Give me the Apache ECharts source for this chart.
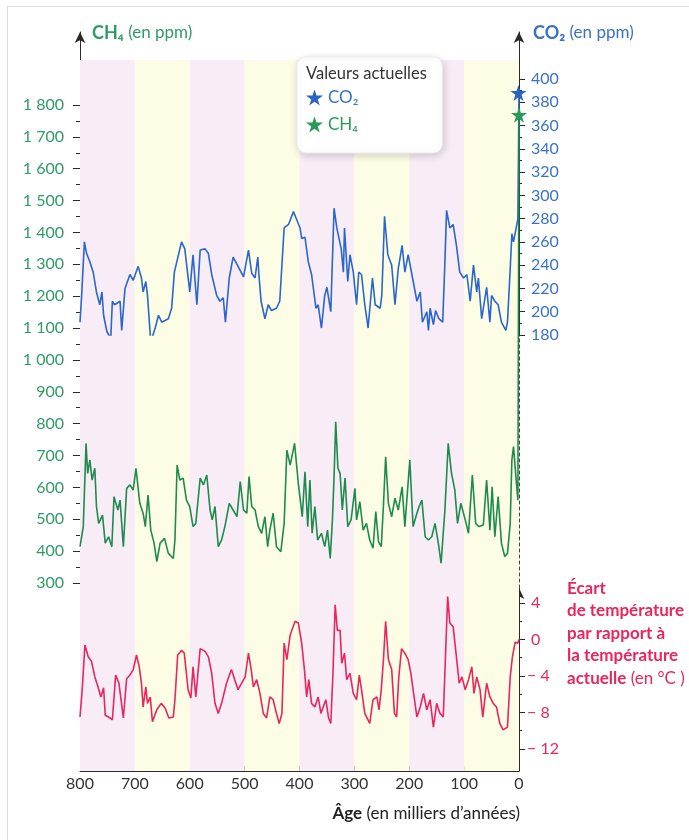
<!DOCTYPE html>
<html>
<head>
<meta charset="utf-8">
<title>CO2, CH4 et température - 800 000 ans</title>
<script src="https://cdn.jsdelivr.net/npm/echarts@6/dist/echarts.min.js"></script>
<style>
  html, body { margin: 0; padding: 0; background: #fff; }
  #frame { position: absolute; left: 7px; top: 6px; width: 720px; height: 900px;
           border-left: 1px solid #dcdcdc; border-top: 1px solid #dcdcdc; }
  #main { position: absolute; left: 0; top: 0; width: 689px; height: 840px; }
</style>
</head>
<body>
<div id="frame"></div>
<div id="main"></div>
<script>
// ages in thousands of years (800 -> 0)
var co2Age = [800, 797, 792, 788, 782, 776, 770, 764, 760, 757, 751, 744, 741, 737, 727, 724, 718, 709, 703, 694,
  688, 685, 680, 677, 671, 663, 657, 651, 639, 633, 628, 615, 609, 600, 594, 587, 581, 572, 566, 560,
  551, 545, 539, 535, 528, 521, 512, 502, 493, 487, 481, 476, 474, 470, 463, 457, 451, 442, 436, 428,
  420, 411, 405, 399, 396, 390, 384, 378, 370, 366, 360, 354, 350, 343, 337, 332, 324, 320, 318, 312,
  308, 302, 296, 292, 287, 281, 275, 267, 262, 253, 250, 245, 239, 232, 226, 220, 213, 208, 202, 194,
  186, 180, 176, 168, 165, 162, 156, 152, 146, 139, 135, 132, 126, 120, 114, 108, 101, 95, 89, 83,
  77, 74, 68, 59, 53, 50, 44, 38, 32, 24, 21, 16, 13, 10, 6, 2, 0];
var co2Val = [191, 214, 260, 250, 243, 234, 217, 206, 217, 197, 183, 177, 209, 206, 209, 184, 220, 232, 227, 239,
  229, 217, 226, 214, 174, 186, 197, 191, 194, 203, 234, 260, 254, 217, 249, 206, 253, 254, 250, 232,
  214, 209, 212, 191, 229, 247, 239, 230, 253, 233, 229, 247, 232, 209, 194, 206, 201, 203, 209, 272,
  275, 286, 279, 272, 263, 264, 243, 232, 203, 206, 186, 214, 221, 200, 289, 272, 254, 234, 272, 226,
  249, 234, 206, 234, 232, 206, 186, 229, 206, 203, 214, 282, 249, 240, 206, 237, 257, 234, 249, 229,
  209, 217, 191, 200, 184, 203, 189, 201, 194, 191, 243, 287, 272, 275, 257, 234, 229, 232, 209, 240,
  217, 229, 194, 221, 191, 214, 209, 206, 191, 184, 191, 237, 267, 260, 270, 280, 388];

var ch4Age = [800, 794, 789, 786, 782, 778, 773, 770, 766, 759, 754, 748, 742, 738, 731, 727, 721, 715, 709, 703,
  698, 691, 685, 681, 676, 671, 665, 660, 654, 646, 639, 630, 627, 623, 618, 612, 606, 600, 594, 589,
  581, 575, 569, 563, 559, 554, 548, 542, 536, 528, 521, 514, 508, 502, 496, 492, 487, 481, 475, 469,
  463, 458, 454, 448, 442, 434, 428, 423, 417, 409, 402, 395, 390, 385, 381, 377, 372, 367, 360, 354,
  349, 344, 340, 337, 334, 330, 326, 322, 317, 312, 306, 299, 296, 290, 284, 278, 272, 266, 261, 256,
  251, 247, 243, 238, 232, 226, 220, 213, 208, 199, 193, 186, 182, 177, 171, 165, 159, 153, 147, 142,
  135, 129, 123, 117, 112, 106, 98, 92, 85, 79, 73, 65, 59, 53, 49, 44, 38, 32, 26, 21,
  16, 13, 10, 5, 2, 0];
var ch4Val = [414, 477, 738, 644, 686, 623, 660, 540, 487, 513, 425, 445, 414, 571, 529, 560, 414, 597, 608, 592,
  660, 550, 519, 477, 576, 466, 425, 367, 425, 440, 393, 377, 435, 670, 623, 629, 560, 540, 477, 487,
  629, 608, 639, 529, 498, 540, 414, 435, 477, 550, 529, 508, 618, 529, 519, 634, 540, 529, 477, 456,
  508, 414, 466, 519, 414, 398, 487, 717, 670, 738, 610, 508, 649, 477, 623, 456, 540, 435, 456, 414,
  466, 377, 498, 634, 806, 660, 644, 529, 629, 477, 498, 597, 498, 555, 466, 487, 435, 409, 524, 430,
  414, 545, 696, 550, 508, 566, 529, 602, 477, 686, 477, 519, 540, 560, 445, 435, 445, 487, 425, 362,
  529, 738, 644, 592, 487, 550, 498, 456, 639, 487, 477, 482, 623, 466, 602, 445, 571, 425, 383, 393,
  487, 686, 728, 620, 560, 1769];

var tempAge = [800, 796, 791, 785, 779, 773, 767, 762, 757, 754, 745, 741, 735, 729, 721, 715, 709, 703, 697, 692,
  688, 685, 680, 677, 672, 668, 660, 652, 645, 638, 630, 627, 622, 615, 610, 603, 598, 594, 589, 581,
  572, 566, 560, 554, 548, 542, 533, 524, 518, 512, 499, 493, 488, 484, 478, 472, 466, 460, 454, 448,
  442, 437, 432, 428, 423, 417, 408, 402, 396, 391, 387, 383, 378, 372, 366, 361, 352, 347, 343, 339,
  335, 331, 326, 323, 318, 314, 308, 302, 296, 291, 287, 281, 272, 266, 259, 255, 251, 247, 243, 238,
  232, 227, 223, 219, 214, 208, 202, 197, 193, 186, 180, 174, 168, 162, 156, 150, 144, 138, 134, 130,
  126, 120, 114, 109, 104, 98, 92, 86, 82, 77, 71, 66, 59, 53, 47, 41, 35, 29, 21, 16,
  12, 7, 2, 0];
var tempVal = [-8.5, -5.5, -0.6, -1.9, -2.4, -4.1, -5.2, -6.3, -5.3, -8.3, -8.6, -8.8, -3.9, -4.8, -8.6, -4.3, -3.9, -3.3, -1.7, -3.0,
  -4.8, -7.4, -5.2, -7.0, -6.3, -9.0, -7.7, -7.0, -7.5, -8.6, -8.5, -6.6, -1.7, -1.2, -1.5, -5.5, -6.4, -3.0, -6.3, -1.0,
  -1.3, -1.9, -3.7, -7.0, -8.1, -7.0, -4.8, -3.3, -4.4, -5.5, -4.1, -1.5, -3.3, -5.2, -4.4, -5.9, -8.1, -8.6, -6.3, -6.6,
  -8.1, -9.2, -8.1, -0.4, -2.2, 0.5, 2.0, 1.8, -0.4, -3.3, -6.3, -4.4, -7.0, -7.4, -6.3, -8.1, -6.6, -8.6, -9.2, -3.7,
  3.8, 1.0, 1.0, -2.6, -1.5, -4.4, -3.7, -5.9, -6.6, -3.9, -5.5, -8.1, -9.2, -6.6, -6.3, -7.7, -5.5, -2.2, 2.0, -2.2,
  -3.3, -8.1, -8.5, -4.1, -1.0, -1.5, -2.2, -3.7, -5.5, -8.5, -7.4, -5.9, -7.7, -6.6, -9.6, -7.0, -8.1, -8.5, -1.9, 4.7,
  1.8, 1.4, -1.9, -4.8, -4.1, -5.5, -4.4, -3.0, -5.9, -4.1, -5.5, -8.5, -4.8, -6.3, -7.0, -7.4, -9.2, -9.9, -9.6, -4.1,
  -1.9, -0.3, -0.4, 0];

// present-day values (stars)
var co2Now = 388;
var ch4Now = 1769;

// axis ticks
var ch4Labels = [300, 400, 500, 600, 700, 800, 900, 1000, 1100, 1200, 1300, 1400, 1500, 1600, 1700, 1800];
var ch4Minor = [350, 450, 550, 650, 750, 850, 950, 1050, 1150, 1250, 1350, 1450, 1550, 1650, 1750];
var co2Labels = [180, 200, 220, 240, 260, 280, 300, 320, 340, 360, 380, 400];
var co2Minor = [190, 210, 230, 250, 270, 290, 310, 330, 350, 370, 390];
var tempLabels = [4, 0, -4, -8, -12];
var tempMinor = [2, -2, -6, -10];
var ageLabels = [0, 100, 200, 300, 400, 500, 600, 700, 800];
var ageTicks = [0, 50, 100, 150, 200, 250, 300, 350, 400, 450, 500, 550, 600, 650, 700, 750, 800];
// background bands (pink / yellow)
var bands = [[800, 700], [700, 600], [600, 500], [500, 400], [400, 300], [300, 200], [200, 100], [100, 0]];

var green = '#2f9c66';
var greenLine = '#1e8a4c';
var blue = '#3a72c6';
var blueLine = '#2a66cc';
var pink = '#e8265e';
var axisCol = '#2a2a2a';
var font = 'Lato';
var star = 'path://M50,0 L61.8,35.1 L98.9,35.1 L68.9,56.8 L80.3,91.9 L50,70.1 L19.7,91.9 L31.1,56.8 L1.1,35.1 L38.2,35.1 Z';

function pairs(ages, vals)
{
    var out = [];
    for (var i = 0; i < ages.length; i++)
        out.push([ages[i], vals[i]]);
    return out;
}

function ch4Fmt(v)
{
    if (v >= 1000)
    {
        var r = String(v % 1000);
        while (r.length < 3) r = '0' + r;
        return Math.floor(v / 1000) + ' ' + r;
    }
    return String(v);
}

function tempFmt(v)
{
    if (v < 0) return '\u2212 ' + Math.abs(v);
    return ' ' + v;
}

var myChart = echarts.init(document.getElementById('main'), null, {renderer: 'canvas'});

var L = 80, R = 170;
var grids = [
    {left: L, right: R, top: 32, bottom: 257},   // CH4
    {left: L, right: R, top: 32, bottom: 505},   // CO2
    {left: L, right: R, top: 588, bottom: 69},   // temperature + age axis
    {left: L, right: R, top: 583, bottom: 69},   // dashed left
    {left: L, right: R, top: 335, bottom: 252},  // dashed right
    {left: L, right: R, top: 60, bottom: 69}     // bands
];

var xAxes = [];
for (var g = 0; g < grids.length; g++)
{
    xAxes.push({
        type: 'value', gridIndex: g, min: 0, max: 800, inverse: true,
        show: g == 2,
        axisLine: {onZero: false, lineStyle: {color: axisCol, width: 1}},
        axisTick: {customValues: ageTicks, inside: true, length: 5, lineStyle: {color: axisCol}},
        axisLabel: {customValues: ageLabels, color: '#333', fontFamily: font, fontSize: 16, margin: 5},
        splitLine: {show: false}
    });
}

// y axes never sit on the x zero (which is at the right edge, axis is inverted)
function yAxis(o)
{
    o.type = 'value';
    o.splitLine = {show: false};
    o.axisLine = o.axisLine || {show: false};
    o.axisLine.onZero = false;
    return o;
}

var arrowLine = function () {
    return {show: true, symbol: ['none', 'arrow'], symbolSize: [8, 11], lineStyle: {color: axisCol}};
};

var yAxes = [
    // 0 CH4
    yAxis({
        gridIndex: 0, position: 'left', min: 300, max: 2029,
        axisLine: arrowLine(),
        axisTick: {customValues: ch4Labels, length: 7, lineStyle: {color: axisCol}},
        axisLabel: {customValues: ch4Labels, formatter: ch4Fmt, color: green, fontFamily: font, fontSize: 16, margin: 16}
    }),
    // 1 CH4 minor ticks
    yAxis({
        gridIndex: 0, position: 'left', min: 300, max: 2029, offset: 0,
        axisTick: {customValues: ch4Minor, length: 4, lineStyle: {color: axisCol}},
        axisLabel: {show: false}
    }),
    // 2 CO2
    yAxis({
        gridIndex: 1, position: 'right', min: 180, max: 440.4,
        axisLine: arrowLine(),
        axisTick: {customValues: co2Labels, length: 6, lineStyle: {color: axisCol}},
        axisLabel: {customValues: co2Labels, color: blue, fontFamily: font, fontSize: 16, margin: 12}
    }),
    // 3 CO2 minor ticks
    yAxis({
        gridIndex: 1, position: 'right', min: 180, max: 440.4, offset: 0,
        axisTick: {customValues: co2Minor, length: 3, lineStyle: {color: axisCol}},
        axisLabel: {show: false}
    }),
    // 4 temperature
    yAxis({
        gridIndex: 2, position: 'right', min: -14.41, max: 5.64,
        axisLine: arrowLine(),
        axisTick: {customValues: tempLabels, length: 6, lineStyle: {color: axisCol}},
        axisLabel: {customValues: tempLabels, formatter: tempFmt, color: pink, fontFamily: font, fontSize: 16, margin: 8}
    }),
    // 5 temperature minor ticks
    yAxis({
        gridIndex: 2, position: 'right', min: -14.41, max: 5.64, offset: 0,
        axisTick: {customValues: tempMinor, length: 3, lineStyle: {color: axisCol}},
        axisLabel: {show: false}
    }),
    // 6 dashed left
    yAxis({
        gridIndex: 3, position: 'left', min: 0, max: 1,
        axisLine: {show: true, lineStyle: {color: '#444', type: [3, 3]}},
        axisTick: {show: false}, axisLabel: {show: false}
    }),
    // 7 dashed right
    yAxis({
        gridIndex: 4, position: 'right', min: 0, max: 1,
        axisLine: {show: true, lineStyle: {color: '#444', type: [3, 3]}},
        axisTick: {show: false}, axisLabel: {show: false}
    }),
    // 8 bands
    yAxis({gridIndex: 5, min: 0, max: 1, show: false})
];

var bandAreas = [];
for (var b = 0; b < bands.length; b++)
{
    bandAreas.push([
        {xAxis: bands[b][0], itemStyle: {color: b % 2 == 0 ? '#f8edf6' : '#fdfde6'}},
        {xAxis: bands[b][1]}
    ]);
}

var option = {
    animation: false,
    textStyle: {fontFamily: font},
    grid: grids,
    xAxis: xAxes,
    yAxis: yAxes,
    title: [
        {
            left: 87, top: 18,
            text: '{b|CH\u2084} {r|(en ppm)}',
            textStyle: {rich: {
                b: {color: green, fontFamily: font, fontSize: 18, fontWeight: 'bold', lineHeight: 20},
                r: {color: green, fontFamily: font, fontSize: 17, fontWeight: 'normal', lineHeight: 20}
            }}
        },
        {
            left: 528, top: 18,
            text: '{b|CO\u2082} {r|(en ppm)}',
            textStyle: {rich: {
                b: {color: blue, fontFamily: font, fontSize: 18, fontWeight: 'bold', lineHeight: 20},
                r: {color: blue, fontFamily: font, fontSize: 17, fontWeight: 'normal', lineHeight: 20}
            }}
        },
        {
            left: 301, top: 59,
            text: 'Valeurs actuelles',
            textStyle: {color: '#333', fontFamily: font, fontSize: 16.5, fontWeight: 'normal', lineHeight: 20}
        },
        {
            left: 562, top: 572,
            text: '{b|\u00c9cart}\n{b|de temp\u00e9rature}\n{b|par rapport \u00e0}\n{b|la temp\u00e9rature}\n{b|actuelle} {r|(en \u00b0C )}',
            textStyle: {rich: {
                b: {color: pink, fontFamily: font, fontSize: 17, fontWeight: 'bold', lineHeight: 22.5},
                r: {color: pink, fontFamily: font, fontSize: 17, fontWeight: 'normal', lineHeight: 22.5}
            }}
        },
        {
            right: 164, top: 799,
            text: '{b|\u00c2ge} {r|(en milliers d\u2019ann\u00e9es)}',
            textStyle: {rich: {
                b: {color: '#222', fontFamily: font, fontSize: 17, fontWeight: 'bold', lineHeight: 20},
                r: {color: '#222', fontFamily: font, fontSize: 17, fontWeight: 'normal', lineHeight: 20}
            }}
        }
    ],
    legend: {
        left: 297, top: 57,
        orient: 'vertical',
        padding: [32, 84, 20, 9],
        itemGap: 10,
        itemWidth: 17, itemHeight: 16,
        icon: star,
        backgroundColor: '#fff',
        borderColor: '#ececec', borderWidth: 1, borderRadius: 9,
        shadowBlur: 8, shadowColor: 'rgba(0,0,0,0.18)', shadowOffsetX: 1, shadowOffsetY: 2,
        textStyle: {fontFamily: font, fontSize: 17},
        selectedMode: false,
        data: [
            {name: 'CO\u2082', textStyle: {color: blue}},
            {name: 'CH\u2084', textStyle: {color: '#2a9a58'}}
        ]
    },
    series: [
        {
            name: 'bands', type: 'line', xAxisIndex: 5, yAxisIndex: 8,
            data: [[800, 0]], showSymbol: false, lineStyle: {opacity: 0}, silent: true, z: 0,
            markArea: {silent: true, data: bandAreas}
        },
        {
            name: 'co2', type: 'line', xAxisIndex: 1, yAxisIndex: 2,
            data: pairs(co2Age, co2Val), showSymbol: false,
            lineStyle: {color: blueLine, width: 1.6}, z: 2
        },
        {
            name: 'ch4', type: 'line', xAxisIndex: 0, yAxisIndex: 0,
            data: pairs(ch4Age, ch4Val), showSymbol: false,
            lineStyle: {color: greenLine, width: 1.6}, z: 3
        },
        {
            name: 'temp', type: 'line', xAxisIndex: 2, yAxisIndex: 4,
            data: pairs(tempAge, tempVal), showSymbol: false,
            lineStyle: {color: pink, width: 1.6}, z: 3
        },
        {
            name: 'CO\u2082', type: 'scatter', xAxisIndex: 1, yAxisIndex: 2,
            data: [[1, co2Now]], symbol: star, symbolSize: 16,
            itemStyle: {color: '#2a62c8', opacity: 1}, z: 5
        },
        {
            name: 'CH\u2084', type: 'scatter', xAxisIndex: 0, yAxisIndex: 0,
            data: [[0, ch4Now]], symbol: star, symbolSize: 16,
            itemStyle: {color: '#2a9a58', opacity: 1}, z: 5
        }
    ]
};

myChart.setOption(option);
</script>
</body>
</html>
